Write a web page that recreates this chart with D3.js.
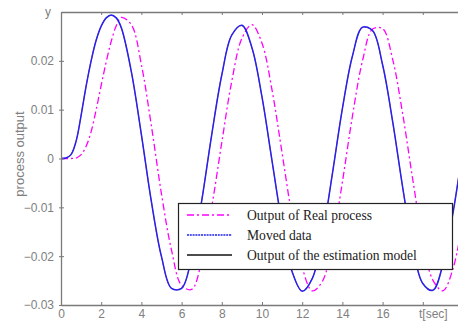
<!DOCTYPE html>
<html>
<head>
<meta charset="utf-8">
<script src="https://cdn.jsdelivr.net/npm/d3@7"></script>
<style>
  body { margin: 0; background: #fff; }
  svg { display: block; }
  .axis text { font-family: "Liberation Sans Narrow", "Liberation Sans", sans-serif; font-size: 12px; fill: #808080; }
</style>
</head>
<body>
<div id="chart"></div>
<script>
// time axis [sec]
const time = [0, 0.25, 0.5, 0.75, 1, 1.25, 1.5, 1.75, 2, 2.25, 2.5, 2.75, 3,
  3.5, 4, 4.5, 5, 5.5, 6, 6.5, 7, 7.5, 8, 8.5, 9, 9.5, 10, 10.5, 11, 11.5, 12,
  12.5, 13, 13.5, 14, 14.5, 15, 15.5, 16, 16.5, 17, 17.5, 18, 18.5, 19, 19.5, 20];

// Output of Real process
const realOut = [0, 0, 0, 0.0001, 0.0008, 0.0025, 0.0055, 0.0100, 0.0150, 0.0198, 0.0240, 0.0272, 0.0289,
  0.0274, 0.0192, 0.0066, -0.0073, -0.0188, -0.0260, -0.0268, -0.0210, -0.0099, 0.0033, 0.0159, 0.0246,
  0.0274, 0.0236, 0.0140, 0.0011, -0.0120, -0.0223, -0.0271, -0.0252, -0.0172, -0.0048, 0.0087, 0.0200,
  0.0265, 0.0266, 0.0203, 0.0091, -0.0043, -0.0167, -0.0249, -0.0271, -0.0226, -0.0126];

// Moved data
const movedOut = [0, 0.0001, 0.0008, 0.0035, 0.0088, 0.0148, 0.0200, 0.0242, 0.0271, 0.0288, 0.0294, 0.0288, 0.0268,
  0.0178, 0.0049, -0.0089, -0.0201, -0.0266, -0.0266, -0.0202, -0.0087, 0.0049, 0.0171, 0.0253, 0.0273,
  0.0227, 0.0126, -0.0005, -0.0134, -0.0232, -0.0272, -0.0246, -0.0159, -0.0032, 0.0102, 0.0210, 0.0269,
  0.0262, 0.0192, 0.0076, -0.0059, -0.0180, -0.0256, -0.0270, -0.0217, -0.0112, 0.0022];

// Output of the estimation model (lies under the moved data)
const modelOut = [0, 0.0001, 0.0009, 0.0036, 0.0089, 0.0149, 0.0201, 0.0243, 0.0271, 0.0288, 0.0293, 0.0287, 0.0267,
  0.0177, 0.0048, -0.0090, -0.0202, -0.0266, -0.0265, -0.0201, -0.0086, 0.0050, 0.0172, 0.0253, 0.0272,
  0.0226, 0.0125, -0.0006, -0.0135, -0.0232, -0.0271, -0.0245, -0.0158, -0.0031, 0.0103, 0.0210, 0.0268,
  0.0261, 0.0191, 0.0075, -0.0060, -0.0181, -0.0256, -0.0269, -0.0216, -0.0111, 0.0023];

const xTicks = [0, 2, 4, 6, 8, 10, 12, 14, 16, 18];
const yTicks = [-0.03, -0.02, -0.01, 0, 0.01, 0.02];
const legendLabels = ["Output of Real process", "Moved data", "Output of the estimation model"];

var width = 458, height = 322;
var margin = {top: 12, left: 61, bottom: 17};

var svg = d3.select("#chart").append("svg")
    .attr("width", width)
    .attr("height", height);

var x = d3.scaleLinear().domain([0, 20]).range([margin.left, 463]);
var y = d3.scaleLinear().domain([-0.03, 0.03]).range([height - margin.bottom, margin.top]);

svg.append("clipPath").attr("id", "plot-clip")
  .append("rect")
    .attr("x", x(0)).attr("y", y(0.03))
    .attr("width", x(20) - x(0)).attr("height", y(-0.03) - y(0.03));

var line = d3.line()
    .x(d => x(d[0]))
    .y(d => y(d[1]))
    .curve(d3.curveCatmullRom);

var series = [
  {values: modelOut, color: "#f05060", width: 1.0, dash: null},
  {values: realOut, color: "#ff00ff", width: 1.3, dash: "7,3,2,3"},
  {values: movedOut, color: "#2323ee", width: 1.5, dash: null}
];

var plot = svg.append("g").attr("clip-path", "url(#plot-clip)");
series.forEach(function(s) {
  plot.append("path")
      .datum(time.map((t, i) => [t, s.values[i]]))
      .attr("fill", "none")
      .attr("stroke", s.color)
      .attr("stroke-width", s.width)
      .attr("stroke-dasharray", s.dash)
      .attr("d", line);
});

// axes: ticks drawn inward like the original
var bottom = svg.append("g").attr("class", "axis")
    .attr("transform", "translate(0," + y(-0.03) + ")")
    .call(d3.axisBottom(x).tickValues(xTicks).tickSizeInner(-3).tickSizeOuter(0).tickPadding(6)
      .tickFormat(d => d === 18 ? "" : d));
bottom.selectAll("text").attr("dy", "0.6em");

var top = svg.append("g").attr("class", "axis")
    .attr("transform", "translate(0," + y(0.03) + ")")
    .call(d3.axisTop(x).tickValues(xTicks).tickSizeInner(-3).tickSizeOuter(0).tickFormat(""));

var left = svg.append("g").attr("class", "axis")
    .attr("transform", "translate(" + x(0) + ",0)")
    .call(d3.axisLeft(y).tickValues(yTicks).tickSizeInner(3).tickSizeOuter(0).tickPadding(4)
      .tickFormat(d => d === 0 ? "0" : d3.format(".2f")(d).replace("-", "\u2212")));
left.selectAll(".tick line").attr("x1", -2).attr("x2", 3);

svg.selectAll(".axis .domain").attr("stroke", "#7a7a7a").attr("stroke-width", 1.3);
svg.selectAll(".axis .tick line").attr("stroke", "#7a7a7a");

// axis titles
svg.append("text").attr("class", "axis-title")
    .attr("x", 419).attr("y", y(-0.03) + 13)
    .attr("font-family", "Liberation Sans Narrow, Liberation Sans, sans-serif")
    .attr("font-size", 12).attr("fill", "#808080")
    .text("t[sec]");

svg.append("text")
    .attr("x", 48).attr("y", 16)
    .attr("text-anchor", "middle")
    .attr("font-family", "Liberation Sans Narrow, Liberation Sans, sans-serif")
    .attr("font-size", 12).attr("fill", "#808080")
    .text("y");

svg.append("text")
    .attr("transform", "translate(24,154) rotate(-90)")
    .attr("text-anchor", "middle")
    .attr("font-family", "Liberation Sans Narrow, Liberation Sans, sans-serif")
    .attr("font-size", 13).attr("fill", "#808080")
    .text("process output");

// legend
var legend = svg.append("g");
legend.append("rect")
    .attr("x", 178.5).attr("y", 203.5)
    .attr("width", 274).attr("height", 66)
    .attr("fill", "#fff").attr("stroke", "#222").attr("stroke-width", 1.2);

var legendStyles = [
  {color: "#ff00ff", width: 1.4, dash: "7,3,2,3"},
  {color: "#2323ee", width: 1.6, dash: "2,0.8"},
  {color: "#111", width: 1.3, dash: null}
];
legendLabels.forEach(function(label, i) {
  var ly = 215 + i * 20;
  legend.append("line")
      .attr("x1", 187).attr("x2", 232)
      .attr("y1", ly).attr("y2", ly)
      .attr("stroke", legendStyles[i].color)
      .attr("stroke-width", legendStyles[i].width)
      .attr("stroke-dasharray", legendStyles[i].dash);
  legend.append("text")
      .attr("x", 247).attr("y", ly + 4.5)
      .attr("font-family", "Liberation Serif, Times New Roman, serif")
      .attr("font-size", 13.6).attr("fill", "#222")
      .text(label);
});
</script>
</body>
</html>
